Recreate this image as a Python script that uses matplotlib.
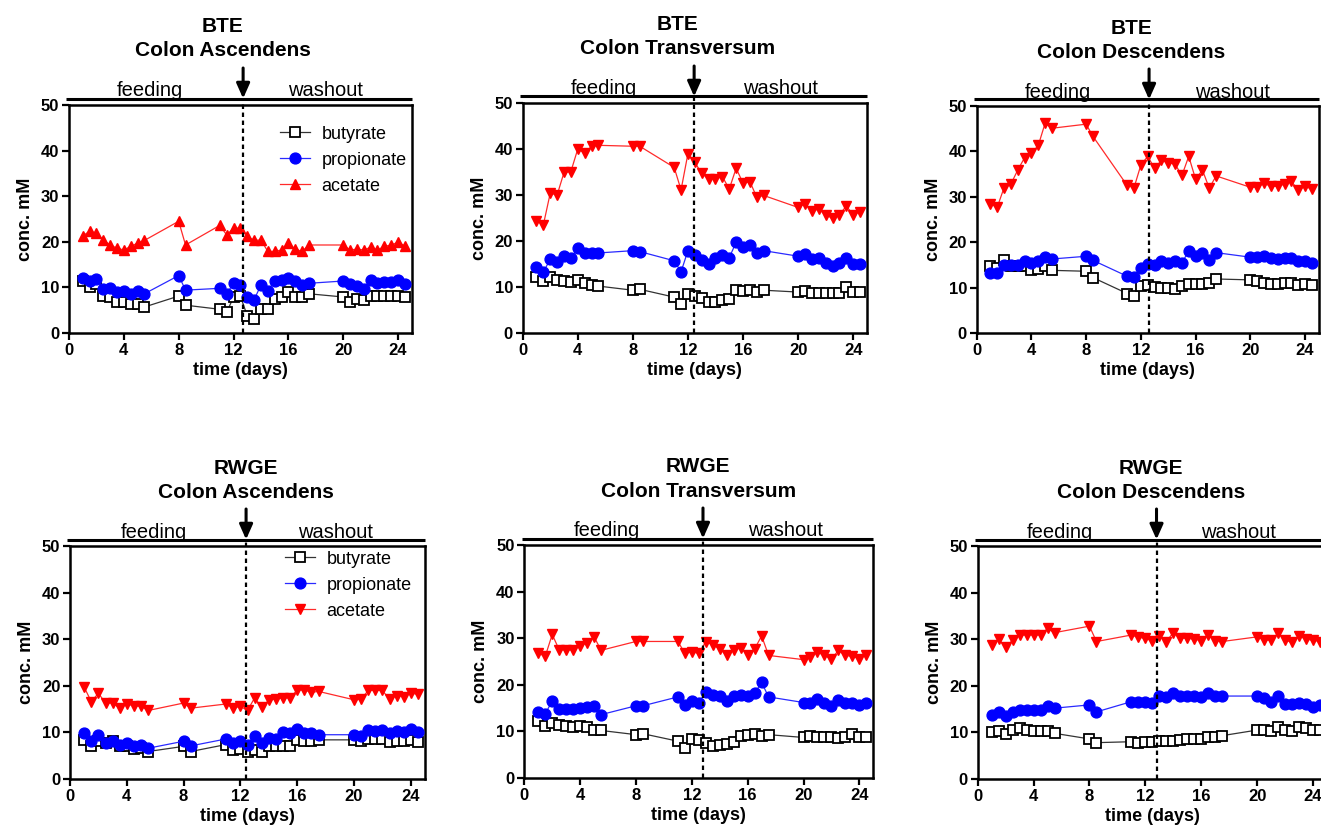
import matplotlib
matplotlib.use("Agg")
import matplotlib.pyplot as plt

plt.rcParams['font.family'] = ['Liberation Sans', 'DejaVu Sans']

# ---------------- data ----------------
time_days = [1, 1.5, 2, 2.5, 3, 3.5, 4, 4.5, 5, 5.5, 8, 8.5,
             11, 11.5, 12, 12.5, 13, 13.5, 14, 14.5, 15, 15.5, 16, 16.5, 17, 17.5,
             20, 20.5, 21, 21.5, 22, 22.5, 23, 23.5, 24, 24.5]

series_names = ["butyrate", "propionate", "acetate"]
group_names = ["BTE", "BTE", "BTE", "RWGE", "RWGE", "RWGE"]
region_names = ["Colon Ascendens", "Colon Transversum", "Colon Descendens",
                "Colon Ascendens", "Colon Transversum", "Colon Descendens"]
washout_day = [12.7, 12.45, 12.6, 12.4, 12.8, 12.8]
phase_labels = ["feeding", "washout"]
phase_label_day = [5.9, 18.7]
x_ticks = [0, 4, 8, 12, 16, 20, 24]
y_ticks = [0, 10, 20, 30, 40, 50]

bte_asc_butyrate = [11.4, 10.0, 10.8, 8.1, 7.9, 6.8, 6.8, 6.3, 6.4, 5.7, 8.1, 6.1,
                    5.2, 4.5, 7.9, 8.1, 3.8, 3.0, 5.3, 5.3, 7.5, 7.9, 9.1, 7.9, 7.9, 8.6,
                    7.9, 6.9, 7.5, 7.3, 8.2, 8.1, 8.1, 8.1, 8.2, 7.9]
bte_asc_propionate = [12.1, 11.4, 11.8, 9.6, 9.8, 8.9, 9.3, 8.6, 9.3, 8.6, 12.6, 9.4,
                      9.8, 8.6, 10.9, 10.5, 7.9, 7.3, 10.5, 9.3, 11.4, 11.6, 12.1, 11.4, 10.5, 10.9,
                      11.4, 10.7, 10.2, 9.6, 11.6, 10.9, 11.2, 11.2, 11.6, 10.7]
bte_asc_acetate = [21.3, 22.3, 21.9, 20.4, 19.3, 18.6, 18.2, 19.0, 19.7, 20.3, 24.5, 19.3,
                   23.6, 21.5, 23.0, 23.0, 21.2, 20.3, 20.4, 17.9, 17.9, 18.2, 19.7, 18.4, 17.9, 19.3,
                   19.3, 18.2, 18.4, 18.2, 18.8, 18.2, 19.0, 19.3, 19.9, 19.1]

bte_trans_butyrate = [12.2, 11.3, 12.1, 11.6, 11.3, 11.1, 11.5, 10.8, 10.4, 10.2, 9.3, 9.5,
                      7.8, 6.3, 8.4, 8.0, 7.6, 6.8, 6.8, 7.1, 7.5, 9.3, 9.1, 9.4, 8.9, 9.3,
                      8.9, 9.2, 8.7, 8.7, 8.7, 8.6, 8.8, 9.9, 8.9, 8.9]
bte_trans_propionate = [14.4, 13.3, 16.0, 15.5, 16.7, 16.4, 18.4, 17.3, 17.3, 17.4, 17.9, 17.7,
                        15.7, 13.3, 17.9, 16.9, 15.8, 15.1, 16.2, 16.9, 16.4, 19.7, 18.6, 19.1, 17.4, 17.9,
                        16.7, 17.2, 16.0, 16.2, 15.3, 14.5, 15.3, 16.4, 15.1, 15.1]
bte_trans_acetate = [24.4, 23.5, 30.4, 30.0, 34.9, 35.1, 40.0, 39.1, 40.6, 40.8, 40.6, 40.6,
                     36.0, 31.1, 39.0, 37.1, 34.7, 33.5, 33.5, 34.0, 31.3, 35.8, 32.6, 32.9, 29.5, 29.9,
                     27.3, 28.1, 26.6, 26.9, 25.7, 24.9, 25.7, 27.6, 25.7, 26.4]

bte_desc_butyrate = [14.7, 14.3, 16.1, 14.7, 14.7, 14.7, 13.9, 14.1, 14.7, 13.8, 13.6, 12.2,
                     8.7, 8.2, 10.3, 10.6, 10.1, 9.9, 9.9, 9.7, 10.3, 10.9, 10.9, 10.9, 11.0, 11.9,
                     11.7, 11.5, 11.1, 10.8, 10.8, 11.1, 11.1, 10.6, 10.8, 10.5]
bte_desc_propionate = [13.3, 13.2, 15.0, 15.0, 15.0, 15.8, 15.4, 15.8, 16.7, 16.3, 16.9, 16.0,
                       12.5, 12.3, 14.4, 15.2, 15.0, 15.8, 15.5, 15.8, 15.5, 18.0, 16.9, 17.6, 16.1, 17.7,
                       16.7, 16.7, 16.9, 16.5, 16.3, 16.6, 16.6, 15.8, 15.8, 15.4]
bte_desc_acetate = [28.4, 27.7, 32.0, 32.8, 35.9, 38.6, 39.6, 41.3, 46.2, 45.1, 46.0, 43.3,
                    32.5, 32.0, 37.0, 38.9, 36.3, 38.0, 37.5, 37.2, 34.7, 38.9, 33.9, 35.9, 31.9, 34.6,
                    32.1, 32.1, 33.0, 32.3, 32.3, 32.8, 33.4, 31.5, 32.3, 31.7]

rwge_asc_butyrate = [8.4, 7.1, 8.1, 7.7, 8.1, 7.0, 7.0, 6.4, 6.6, 5.9, 7.0, 5.9,
                     7.4, 6.3, 6.4, 5.9, 6.3, 5.9, 7.0, 7.0, 7.1, 7.1, 8.4, 8.1, 8.1, 8.4,
                     8.4, 8.1, 8.6, 8.6, 8.6, 7.9, 8.1, 8.1, 8.3, 7.9]
rwge_asc_propionate = [9.9, 8.1, 9.5, 7.7, 8.1, 7.4, 7.7, 7.1, 7.4, 6.6, 8.1, 7.1,
                       8.6, 7.7, 8.1, 7.4, 9.3, 7.7, 8.8, 8.6, 10.0, 9.9, 10.7, 9.9, 9.9, 9.5,
                       9.5, 9.3, 10.6, 10.2, 10.6, 9.9, 10.4, 10.0, 10.7, 10.0]
rwge_asc_acetate = [19.7, 16.6, 18.4, 16.3, 16.3, 15.2, 16.1, 15.7, 15.6, 14.7, 16.3, 15.2,
                    16.1, 15.2, 15.6, 14.7, 17.4, 15.4, 16.9, 17.2, 17.4, 17.4, 19.1, 19.1, 18.6, 18.8,
                    17.0, 17.1, 19.0, 19.0, 19.0, 17.1, 17.9, 17.7, 18.4, 18.2]

rwge_trans_butyrate = [12.3, 11.2, 11.9, 11.4, 11.1, 10.9, 11.2, 10.9, 10.2, 10.2, 9.3, 9.5,
                       7.9, 6.4, 8.4, 8.1, 7.5, 6.8, 7.0, 7.3, 7.7, 9.1, 9.3, 9.4, 9.1, 9.3,
                       8.7, 9.1, 8.7, 8.7, 8.7, 8.6, 8.7, 9.4, 8.9, 8.9]
rwge_trans_propionate = [14.1, 13.8, 16.5, 14.8, 14.8, 14.7, 15.0, 15.2, 15.5, 13.6, 15.5, 15.5,
                         17.4, 15.7, 16.5, 16.2, 18.4, 17.9, 17.5, 16.6, 17.7, 17.9, 17.5, 18.2, 20.5, 17.4,
                         16.2, 16.2, 17.0, 16.1, 15.5, 16.8, 16.2, 16.1, 15.7, 16.2]
rwge_trans_acetate = [26.8, 26.1, 30.8, 27.5, 27.5, 27.5, 28.4, 29.0, 30.3, 27.4, 29.3, 29.3,
                      29.3, 26.8, 27.0, 26.8, 29.2, 28.6, 27.7, 26.3, 27.5, 27.9, 26.5, 27.7, 30.5, 26.3,
                      25.4, 26.0, 27.0, 26.3, 25.5, 27.4, 26.3, 26.1, 25.6, 26.5]

rwge_desc_butyrate = [10.0, 10.4, 9.7, 10.6, 10.9, 10.6, 10.4, 10.4, 10.3, 9.8, 8.6, 7.8,
                      8.0, 7.7, 8.0, 8.0, 8.2, 8.2, 8.2, 8.4, 8.5, 8.5, 8.5, 9.1, 9.1, 9.3,
                      10.5, 10.5, 10.3, 11.1, 10.5, 10.4, 11.1, 10.9, 10.6, 10.6]
rwge_desc_propionate = [13.7, 14.4, 13.5, 14.4, 14.9, 14.9, 14.9, 14.9, 15.7, 15.2, 15.9, 14.4,
                        16.6, 16.6, 16.6, 16.4, 17.8, 17.5, 18.5, 17.8, 17.8, 17.8, 17.5, 18.5, 17.8, 17.8,
                        17.8, 17.3, 16.6, 17.8, 16.2, 16.2, 16.4, 16.1, 15.5, 15.9]
rwge_desc_acetate = [28.8, 30.0, 28.3, 29.8, 30.9, 30.9, 30.9, 30.9, 32.3, 31.4, 32.8, 29.5,
                     30.9, 30.4, 30.2, 29.6, 30.7, 29.5, 31.4, 30.2, 30.2, 30.0, 29.7, 30.9, 29.7, 29.5,
                     30.5, 29.8, 29.8, 31.3, 29.8, 29.3, 30.7, 30.0, 29.8, 29.5]

panel_data = [
    (bte_asc_butyrate, bte_asc_propionate, bte_asc_acetate),
    (bte_trans_butyrate, bte_trans_propionate, bte_trans_acetate),
    (bte_desc_butyrate, bte_desc_propionate, bte_desc_acetate),
    (rwge_asc_butyrate, rwge_asc_propionate, rwge_asc_acetate),
    (rwge_trans_butyrate, rwge_trans_propionate, rwge_trans_acetate),
    (rwge_desc_butyrate, rwge_desc_propionate, rwge_desc_acetate),
]

# ---------------- layout / style ----------------
W, H = 1321, 835
fig = plt.figure(figsize=(W / 100, H / 100), dpi=100)

# (x of day 0, px per day, y of top, y of bottom) in pixels
px_layout = [(69, 13.71, 105, 333), (522.7, 13.77, 103, 333), (976.7, 13.68, 106, 333),
             (70, 14.2, 546, 779), (524.3, 13.96, 545, 778), (977.7, 13.97, 546, 779)]
acetate_markers = ['^', 'v', 'v', 'v', 'v', 'v']
show_legend = [True, False, False, True, False, False]
title_xfrac = [0.449, 0.449, 0.452, 0.496, 0.498, 0.496]
legend_anchor = [(0.615, 0.91), None, None, (0.605, 0.98), None, None]

colors = ['black', '#0000ff', '#ff0000']
line_colors = ['#333333', '#2a2aff', '#ff2a2a']

for i in range(6):
    x0, sc, top, bot = px_layout[i]
    right = x0 + 25 * sc
    ax = fig.add_axes([x0 / W, 1 - bot / H, (right - x0) / W, (bot - top) / H])
    ax_h = bot - top
    but, prop, ace = panel_data[i]

    ax.plot(time_days, but, color=line_colors[0], lw=0.9, marker='s', ms=6.8,
            mfc='white', mec='black', mew=1.3, label=series_names[0], zorder=3)
    ax.plot(time_days, prop, color=line_colors[1], lw=0.9, marker='o', ms=7.8,
            mfc=colors[1], mec=colors[1], label=series_names[1], zorder=3)
    ax.plot(time_days, ace, color=line_colors[2], lw=0.9, marker=acetate_markers[i], ms=7.5,
            mfc=colors[2], mec=colors[2], label=series_names[2], zorder=3)

    ax.set_xlim(0, 25)
    ax.set_ylim(0, 50)
    ax.set_xticks(x_ticks)
    ax.set_yticks(y_ticks)
    for s in ax.spines.values():
        s.set_linewidth(1.8)
    ax.tick_params(direction='out', length=5, width=1.6, labelsize=12, pad=2)
    for lab in ax.get_xticklabels() + ax.get_yticklabels():
        lab.set_fontweight('bold')
    ax.set_xlabel("time (days)", fontsize=13, fontweight='bold', labelpad=3)
    ax.set_ylabel("conc. mM", fontsize=13, fontweight='bold', labelpad=5)

    # phase bar
    bar_y = 1 + 6.5 / ax_h
    ax.plot([-0.2, 25], [bar_y, bar_y], transform=ax.get_xaxis_transform(),
            color='black', lw=2.2, clip_on=False, solid_capstyle='butt')
    # dashed washout line
    wd = washout_day[i]
    ax.plot([wd, wd], [0, bar_y], transform=ax.get_xaxis_transform(), color='black',
            lw=1.6, ls=(0, (2, 1.6)), clip_on=False, zorder=4)
    # arrow
    ax.annotate("", xy=(wd, bar_y), xytext=(wd, 1 + 37 / ax_h),
                xycoords=ax.get_xaxis_transform(), textcoords=ax.get_xaxis_transform(),
                arrowprops=dict(arrowstyle='-|>,head_length=0.9,head_width=0.4',
                                color='black', lw=2.2, shrinkA=0, shrinkB=0),
                annotation_clip=False)
    # phase labels
    for lbl, d in zip(phase_labels, phase_label_day):
        ax.text(d, 1 + 8.5 / ax_h, lbl, transform=ax.get_xaxis_transform(),
                ha='center', va='baseline', fontsize=14.5)
    # titles
    ax.text(title_xfrac[i], 1 + 78 / ax_h, group_names[i], transform=ax.transAxes,
            ha='center', va='center', fontsize=15, fontweight='bold')
    ax.text(title_xfrac[i], 1 + 54 / ax_h, region_names[i], transform=ax.transAxes,
            ha='center', va='center', fontsize=15, fontweight='bold')

    if show_legend[i]:
        ax.legend(loc='upper left', bbox_to_anchor=legend_anchor[i], frameon=False,
                  fontsize=13, handlelength=1.7, handletextpad=0.6, labelspacing=0.5,
                  borderpad=0, borderaxespad=0)

fig.savefig("out.png", dpi=100)
